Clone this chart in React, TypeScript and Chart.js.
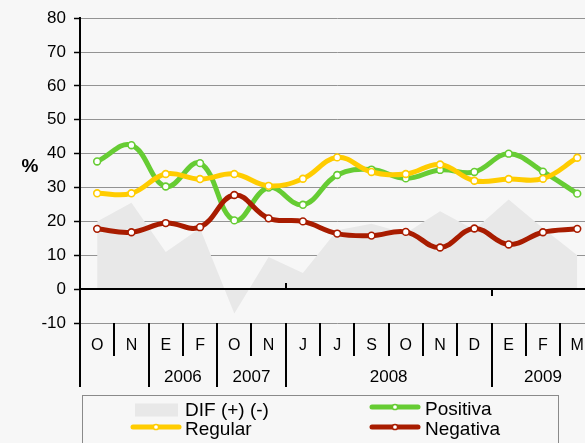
import { useEffect, useRef } from 'react';
import { Chart, registerables } from 'chart.js';

Chart.register(...registerables);

// ---- data ----
const months = ['O', 'N', 'E', 'F', 'O', 'N', 'J', 'J', 'S', 'O', 'N', 'D', 'E', 'F', 'M'];
const yearLabels = ['', '2006', '2007', '2008', '2009'];
const yearSpans = [2, 2, 2, 6, 3];
const difValues = [20.0, 25.5, 11.0, 18.0, -7.2, 9.5, 4.8, 17.4, 19.3, 16.5, 23.0, 17.5, 26.5, 18.0, 10.0];
const positivaValues = [37.7, 42.5, 30.3, 37.2, 20.3, 30.0, 24.9, 33.7, 35.3, 32.7, 35.2, 34.6, 40.0, 34.7, 28.2];
const regularValues = [28.3, 28.3, 34.0, 32.5, 34.0, 30.5, 32.6, 38.9, 34.6, 34.0, 36.8, 32.0, 32.5, 32.6, 38.8];
const negativaValues = [17.8, 16.8, 19.5, 18.3, 27.8, 20.9, 20.0, 16.4, 15.8, 16.9, 12.3, 17.9, 13.2, 16.8, 17.8];
const seriesLabels = ['DIF (+) (-)', 'Positiva', 'Regular', 'Negativa'];
const yMin = -10;
const yMax = 80;
const yStep = 10;

const FONT = '"Liberation Sans", Arial, sans-serif';
const GREEN = '#66cc33';
const YELLOW = '#ffcc00';
const RED = '#a81c00';
const AREA = '#e8e8e8';
const BG = '#f7f7f7';

const extrasPlugin = {
  id: 'extras',
  beforeDraw(chart: any) {
    const ctx = chart.ctx;
    ctx.save();
    ctx.fillStyle = BG;
    ctx.fillRect(0, 0, chart.width, chart.height);
    ctx.restore();
  },
  afterDatasetDraw(chart: any, args: any) {
    if (args.index !== 0) return;
    const ctx = chart.ctx;
    const area = chart.chartArea;
    const y0 = Math.round(chart.scales.y.getPixelForValue(0));
    ctx.save();
    ctx.strokeStyle = '#000';
    ctx.lineWidth = 2;
    ctx.beginPath();
    ctx.moveTo(area.left, y0);
    ctx.lineTo(area.right, y0);
    ctx.stroke();
    ctx.restore();
  },
  afterDraw(chart: any) {
    const ctx = chart.ctx;
    const xs = chart.scales.x;
    const ys = chart.scales.y;
    const area = chart.chartArea;
    const n = months.length;
    const boundary = (i: number) =>
      i <= 0 ? area.left : i >= n ? area.right : (xs.getPixelForValue(i - 1) + xs.getPixelForValue(i)) / 2;

    const groupStarts: number[] = [];
    let acc = 0;
    yearSpans.forEach((s) => {
      groupStarts.push(acc);
      acc += s;
    });

    ctx.save();
    ctx.strokeStyle = '#000';
    ctx.lineWidth = 2;
    // month / group dividers below the axis
    for (let i = 0; i < n; i++) {
      const bx = Math.round(boundary(i));
      const isGroup = groupStarts.includes(i);
      ctx.beginPath();
      ctx.moveTo(bx, area.bottom);
      ctx.lineTo(bx, area.bottom + (isGroup ? 64 : 33));
      ctx.stroke();
    }
    // small ticks on zero line
    const y0 = Math.round(ys.getPixelForValue(0));
    const t1 = Math.round(boundary(6));
    const t2 = Math.round(boundary(12));
    ctx.beginPath();
    ctx.moveTo(t1, y0 - 6);
    ctx.lineTo(t1, y0);
    ctx.moveTo(t2, y0);
    ctx.lineTo(t2, y0 + 7);
    ctx.stroke();

    // year labels
    ctx.fillStyle = '#000';
    ctx.font = `17px ${FONT}`;
    ctx.textAlign = 'center';
    ctx.textBaseline = 'middle';
    yearLabels.forEach((lab, gi) => {
      if (!lab) return;
      const s = groupStarts[gi];
      const e = s + yearSpans[gi];
      const cx = (boundary(s) + boundary(e)) / 2;
      ctx.fillText(lab, cx, area.bottom + 54);
    });

    // % title
    ctx.font = `bold 19px ${FONT}`;
    ctx.fillText('%', 30, 167);

    // legend
    const lx = 82.5;
    const ly = 395.5;
    ctx.strokeStyle = '#8a8a8a';
    ctx.lineWidth = 1;
    ctx.strokeRect(lx, ly, 476, 80);
    ctx.font = `19px ${FONT}`;
    ctx.textAlign = 'left';
    const items = [
      { label: seriesLabels[0], kind: 'box', color: AREA, sx: 135, tx: 185, cy: 410 },
      { label: seriesLabels[1], kind: 'line', color: GREEN, sx: 372, tx: 425, cy: 409 },
      { label: seriesLabels[2], kind: 'line', color: YELLOW, sx: 133, tx: 185, cy: 429 },
      { label: seriesLabels[3], kind: 'line', color: RED, sx: 372, tx: 425, cy: 429 },
    ];
    items.forEach((it) => {
      if (it.kind === 'box') {
        ctx.fillStyle = it.color;
        ctx.fillRect(it.sx, it.cy - 6.5, 43, 13);
      } else {
        ctx.strokeStyle = it.color;
        ctx.lineWidth = 5;
        ctx.lineCap = 'round';
        ctx.beginPath();
        ctx.moveTo(it.sx, it.cy - 2);
        ctx.lineTo(it.sx + 46, it.cy - 2);
        ctx.stroke();
        ctx.fillStyle = '#fff';
        ctx.lineWidth = 1.5;
        ctx.beginPath();
        ctx.arc(it.sx + 23, it.cy - 2, 2.6, 0, Math.PI * 2);
        ctx.fill();
        ctx.stroke();
      }
      ctx.fillStyle = '#000';
      ctx.fillText(it.label, it.tx, it.cy + 1);
    });
    ctx.restore();
  },
};

function lineDataset(label: string, data: number[], color: string, order: number) {
  return {
    type: 'line' as const,
    label,
    data,
    borderColor: color,
    backgroundColor: color,
    borderWidth: 5,
    tension: 0.4,
    fill: false,
    pointRadius: 3.4,
    pointBorderWidth: 1.6,
    pointBackgroundColor: '#fff',
    pointBorderColor: color,
    borderJoinStyle: 'round' as const,
    order,
  };
}

export default function App() {
  const canvasRef = useRef<HTMLCanvasElement | null>(null);

  useEffect(() => {
    const canvas = canvasRef.current;
    if (!canvas) return;
    const chart = new Chart(canvas, {
      type: 'line',
      data: {
        labels: months,
        datasets: [
          {
            type: 'line',
            label: seriesLabels[0],
            data: difValues,
            borderWidth: 0,
            borderColor: 'rgba(0,0,0,0)',
            backgroundColor: AREA,
            fill: 'origin',
            tension: 0,
            pointRadius: 0,
            order: 4,
          },
          lineDataset(seriesLabels[1], positivaValues, GREEN, 3),
          lineDataset(seriesLabels[2], regularValues, YELLOW, 2),
          lineDataset(seriesLabels[3], negativaValues, RED, 1),
        ],
      },
      options: {
        animation: false,
        responsive: false,
        devicePixelRatio: 1,
        layout: { padding: { top: 14, right: 4, left: 0, bottom: 0 } },
        plugins: {
          legend: { display: false },
          tooltip: { enabled: false },
        },
        scales: {
          x: {
            type: 'category',
            offset: true,
            grid: { display: false, drawTicks: false, tickLength: 0 },
            border: { display: false },
            ticks: {
              font: { family: FONT, size: 16 },
              color: '#000',
              padding: 13,
              maxRotation: 0,
              autoSkip: false,
            },
            afterFit: (scale: any) => {
              scale.height = 120;
            },
          },
          y: {
            min: yMin,
            max: yMax,
            ticks: {
              stepSize: yStep,
              font: { family: FONT, size: 17 },
              color: '#000',
              padding: 8,
            },
            grid: {
              color: (c: any) => (c.tick && c.tick.value === 0 ? 'rgba(0,0,0,0)' : '#939393'),
              lineWidth: 1,
              drawTicks: true,
              tickLength: 6,
              tickColor: '#000',
              tickWidth: 1.5,
            },
            border: { display: true, color: '#000', width: 2 },
            afterFit: (scale: any) => {
              scale.width = 80;
            },
          },
        },
      },
      plugins: [extrasPlugin],
    });
    return () => chart.destroy();
  }, []);

  return (
    <div
      style={{
        position: 'fixed',
        left: 0,
        top: 0,
        width: 585,
        height: 443,
        overflow: 'hidden',
        background: BG,
      }}
    >
      <canvas ref={canvasRef} width={600} height={443} style={{ display: 'block' }} />
    </div>
  );
}
